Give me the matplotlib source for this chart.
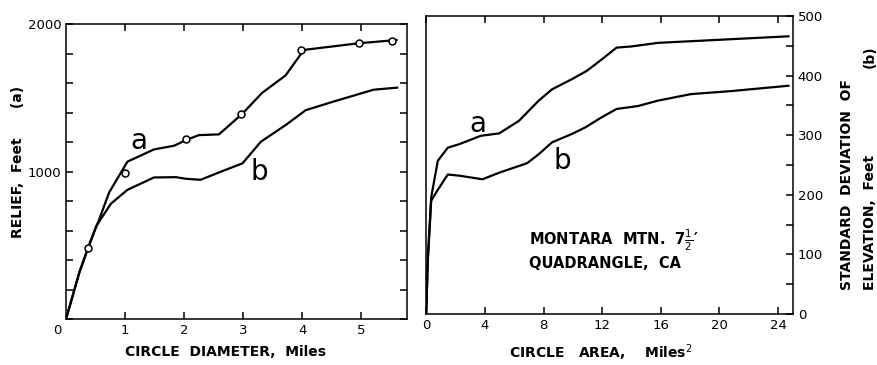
import matplotlib
matplotlib.use("Agg")
import matplotlib.pyplot as plt

# left panel: relief vs circle diameter
diam_a = [0, 0.225, 0.37, 0.56, 0.73, 1.04, 1.49, 1.83, 2.03, 2.25, 2.59, 2.99, 3.32, 3.72, 4.03, 4.96, 5.6]
relief_a = [0, 315, 483, 674, 858, 1067, 1150, 1175, 1213, 1247, 1252, 1393, 1533, 1652, 1825, 1870, 1892]
diam_b = [0, 0.225, 0.51, 0.76, 1.04, 1.49, 1.86, 2.03, 2.28, 2.56, 2.99, 3.30, 3.72, 4.06, 4.51, 5.21, 5.61]
relief_b = [0, 315, 629, 782, 876, 960, 962, 951, 944, 989, 1056, 1202, 1315, 1416, 1472, 1555, 1569]
circ_x = [0.37, 1.0, 2.03, 2.97, 3.98, 4.96, 5.52]
circ_y = [483, 989, 1218, 1387, 1827, 1872, 1888]

# right panel: standard deviation vs circle area
area_a = [0, 0.11, 0.34, 0.79, 1.47, 2.26, 3.72, 4.97, 6.32, 7.67, 8.58, 9.93, 10.95, 11.96, 12.98, 14.0, 15.8, 24.7]
sd_a = [0, 95, 196, 257, 279, 285, 299, 303, 324, 358, 377, 394, 408, 427, 447, 449, 455, 466]
area_b = [0, 0.11, 0.34, 0.68, 1.47, 2.26, 3.84, 4.97, 6.88, 7.67, 8.58, 9.93, 10.84, 11.96, 12.98, 14.45, 15.8, 18.06, 20.77, 24.7]
sd_b = [0, 89, 190, 204, 234, 232, 226, 237, 253, 268, 288, 302, 313, 330, 344, 349, 358, 369, 374, 383]

left_xticks = [1, 2, 3, 4, 5]
right_xticks = [0, 4, 8, 12, 16, 20, 24]

fig = plt.figure(figsize=(8.77, 3.65), dpi=100)
narrow = ["Liberation Sans Narrow", "DejaVu Sans Condensed", "DejaVu Sans"]
lab = dict(family=narrow, fontweight="bold", fontsize=10)

ax1 = fig.add_axes([0.0753, 0.126, 0.389, 0.808])
ax1.plot(diam_a, relief_a, color="black", lw=1.6)
ax1.plot(diam_b, relief_b, color="black", lw=1.6)
ax1.plot(circ_x, circ_y, "o", ms=5, mfc="white", mec="black", mew=1.1)
ax1.set_xlim(0, 5.78)
ax1.set_ylim(0, 2000)
ax1.set_xticks(left_xticks)
ax1.set_yticks([1000, 2000])
ax1.set_yticks(range(0, 2001, 200), minor=True)
ax1.tick_params(which="both", direction="in", top=True, right=True, length=5, width=1.1, labelsize=9.5)
ax1.text(1.24, 1205, "a", fontsize=20, ha="center", va="center")
ax1.text(3.27, 1000, "b", fontsize=20, ha="center", va="center")
ax1.text(-0.15, -80, "0", fontsize=9.5, ha="center", va="center")

ax2 = fig.add_axes([0.486, 0.140, 0.418, 0.816])
ax2.plot(area_a, sd_a, color="black", lw=1.6)
ax2.plot(area_b, sd_b, color="black", lw=1.6)
ax2.set_xlim(0, 25)
ax2.set_ylim(0, 500)
ax2.set_xticks(right_xticks)
ax2.set_yticks(range(0, 501, 100))
ax2.set_yticks(range(0, 501, 50), minor=True)
ax2.yaxis.tick_right()
ax2.tick_params(which="both", direction="in", top=True, left=False, right=True, length=5, width=1.1, labelsize=9.5)
ax2.text(3.5, 318, "a", fontsize=20, ha="center", va="center")
ax2.text(9.25, 257, "b", fontsize=20, ha="center", va="center")
ax2.text(7.0, 123, "MONTARA  MTN.  7$\\frac{1}{2}$\u2032",
         family=narrow, fontsize=10.5, fontweight="bold", ha="left", va="center")
ax2.text(7.0, 84, "QUADRANGLE,  CA",
         family=narrow, fontsize=10.5, fontweight="bold", ha="left", va="center")

for ax in (ax1, ax2):
    for sp in ax.spines.values():
        sp.set_linewidth(1.1)

fig.text(0.257, 0.035, "CIRCLE  DIAMETER,  Miles", ha="center", va="center", **lab)
fig.text(0.685, 0.035, "CIRCLE   AREA,    Miles$^2$", ha="center", va="center", **lab)
fig.text(0.02, 0.348, "RELIEF,  Feet      (a)", rotation=90, ha="center", va="bottom", **lab)
fig.text(0.966, 0.205, "STANDARD  DEVIATION  OF", rotation=90, ha="center", va="bottom", **lab)
fig.text(0.992, 0.205, "ELEVATION,  Feet", rotation=90, ha="center", va="bottom", **lab)
fig.text(0.992, 0.845, "(b)", rotation=90, ha="center", va="center", **lab)

fig.savefig("out.png", dpi=100)
